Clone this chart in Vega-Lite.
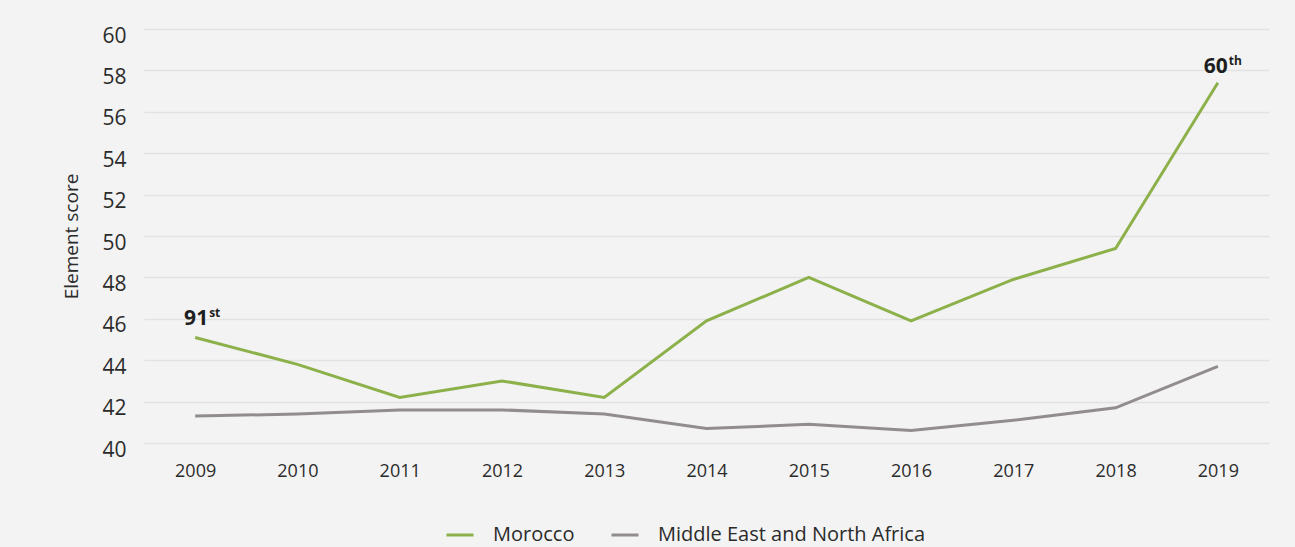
{
  "$schema": "https://vega.github.io/schema/vega-lite/v6.json",
  "width": 1125,
  "height": 414,
  "autosize": {"type": "none"},
  "padding": {"left": 144, "top": 29, "right": 26, "bottom": 104},
  "background": "#f3f3f3",
  "config": {
    "view": {"stroke": null},
    "font": "Open Sans",
    "text": {"font": "Open Sans"}
  },
  "layer": [
    {
      "data": {"values": [
        {"year": "2009", "series": "Morocco", "score": 45.1},
        {"year": "2010", "series": "Morocco", "score": 43.8},
        {"year": "2011", "series": "Morocco", "score": 42.2},
        {"year": "2012", "series": "Morocco", "score": 43.0},
        {"year": "2013", "series": "Morocco", "score": 42.2},
        {"year": "2014", "series": "Morocco", "score": 45.9},
        {"year": "2015", "series": "Morocco", "score": 48.0},
        {"year": "2016", "series": "Morocco", "score": 45.9},
        {"year": "2017", "series": "Morocco", "score": 47.9},
        {"year": "2018", "series": "Morocco", "score": 49.4},
        {"year": "2019", "series": "Morocco", "score": 57.4},
        {"year": "2009", "series": "Middle East and North Africa", "score": 41.3},
        {"year": "2010", "series": "Middle East and North Africa", "score": 41.4},
        {"year": "2011", "series": "Middle East and North Africa", "score": 41.6},
        {"year": "2012", "series": "Middle East and North Africa", "score": 41.6},
        {"year": "2013", "series": "Middle East and North Africa", "score": 41.4},
        {"year": "2014", "series": "Middle East and North Africa", "score": 40.7},
        {"year": "2015", "series": "Middle East and North Africa", "score": 40.9},
        {"year": "2016", "series": "Middle East and North Africa", "score": 40.6},
        {"year": "2017", "series": "Middle East and North Africa", "score": 41.1},
        {"year": "2018", "series": "Middle East and North Africa", "score": 41.7},
        {"year": "2019", "series": "Middle East and North Africa", "score": 43.7}
      ]},
      "mark": {"type": "line", "strokeWidth": 3},
      "encoding": {
        "x": {
          "field": "year", "type": "ordinal",
          "scale": {"type": "point", "padding": 0.5},
          "axis": {
            "title": null, "labelAngle": 0, "ticks": false, "domain": false, "grid": false,
            "labelFontSize": 18, "labelColor": "#2b2b2b", "labelPadding": 19, "labelFont": "Open Sans"
          }
        },
        "y": {
          "field": "score", "type": "quantitative",
          "scale": {"domain": [40, 60], "nice": false, "zero": false},
          "axis": {
            "title": "Element score", "values": [40,42,44,46,48,50,52,54,56,58,60],
            "ticks": false, "domain": false, "grid": true, "gridColor": "#e2e2e2", "gridWidth": 1.5,
            "labelFontSize": 21, "labelColor": "#2b2b2b", "labelPadding": 18, "labelOffset": 7, "labelFont": "Open Sans",
            "titleFontSize": 19, "titleFontWeight": "normal", "titleColor": "#2b2b2b", "titlePadding": 20, "titleFont": "Open Sans"
          }
        },
        "color": {
          "field": "series", "type": "nominal",
          "scale": {"domain": ["Morocco", "Middle East and North Africa"], "range": ["#8db14a", "#918c8f"]},
          "legend": {
            "title": null, "orient": "none", "direction": "horizontal",
            "legendX": 301, "legendY": 491, "labelLimit": 500,
            "symbolType": "stroke", "symbolSize": 729, "symbolStrokeWidth": 3,
            "labelFontSize": 20, "labelColor": "#2b2b2b", "labelFont": "Open Sans", "labelOffset": 18,
            "columnPadding": 30
          }
        }
      }
    },
    {
      "data": {"values": [{"year": "2009", "score": 45.1, "label": "91"}]},
      "mark": {"type": "text", "fontSize": 21, "fontWeight": "bold", "align": "right", "baseline": "alphabetic", "dx": 13, "dy": -12, "color": "#1e1e1e"},
      "encoding": {"x": {"field": "year", "type": "ordinal"}, "y": {"field": "score", "type": "quantitative"}, "text": {"field": "label"}}
    },
    {
      "data": {"values": [{"year": "2009", "score": 45.1, "label": "st"}]},
      "mark": {"type": "text", "fontSize": 12, "fontWeight": "bold", "align": "left", "baseline": "alphabetic", "dx": 14, "dy": -20, "color": "#1e1e1e"},
      "encoding": {"x": {"field": "year", "type": "ordinal"}, "y": {"field": "score", "type": "quantitative"}, "text": {"field": "label"}}
    },
    {
      "data": {"values": [{"year": "2019", "score": 57.4, "label": "60"}]},
      "mark": {"type": "text", "fontSize": 21, "fontWeight": "bold", "align": "right", "baseline": "alphabetic", "dx": 10, "dy": -10, "color": "#1e1e1e"},
      "encoding": {"x": {"field": "year", "type": "ordinal"}, "y": {"field": "score", "type": "quantitative"}, "text": {"field": "label"}}
    },
    {
      "data": {"values": [{"year": "2019", "score": 57.4, "label": "th"}]},
      "mark": {"type": "text", "fontSize": 12, "fontWeight": "bold", "align": "left", "baseline": "alphabetic", "dx": 11, "dy": -18, "color": "#1e1e1e"},
      "encoding": {"x": {"field": "year", "type": "ordinal"}, "y": {"field": "score", "type": "quantitative"}, "text": {"field": "label"}}
    }
  ]
}
